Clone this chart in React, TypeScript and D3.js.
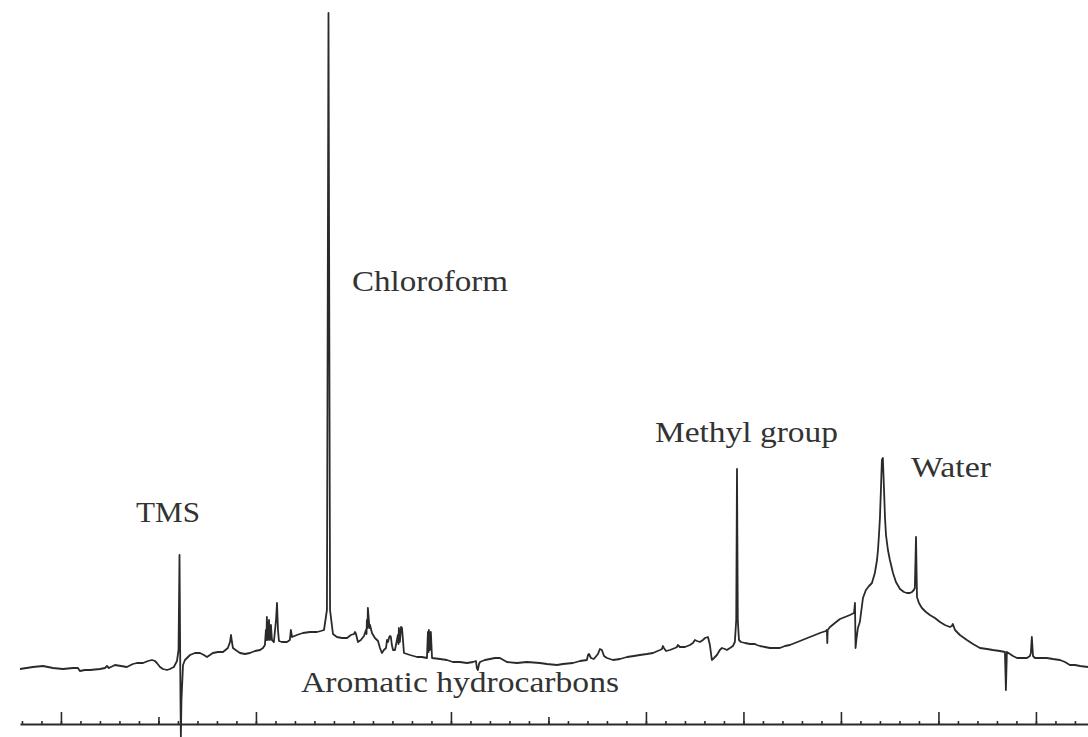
import { useEffect, useRef } from 'react';
import * as d3 from 'd3';

// Spectrum, as [shift (scale divisions), signal height]
const baselineLeft = [
  [-2.1, 55], [-1.44, 57], [-0.92, 58], [-0.41, 56], [0.1, 55], [0.62, 56], [0.87, 56],
  [0.97, 53], [1.23, 54], [1.49, 54], [2.0, 55], [2.26, 56], [2.36, 58], [2.46, 56],
  [2.77, 59], [3.08, 58], [3.38, 57], [3.69, 60], [3.9, 61], [4.21, 61], [4.46, 63],
  [4.67, 64], [4.82, 63], [4.92, 61], [5.08, 57], [5.23, 55], [5.44, 54], [5.59, 55],
  [5.79, 57], [5.95, 63],
];

const tmsRegion = [
  [6.03, 74], [6.08, 169], [6.13, 24], [6.15, -13], [6.18, 24], [6.26, 59], [6.36, 64],
  [6.62, 69], [6.87, 71], [7.13, 71], [7.33, 69], [7.49, 67], [7.64, 69], [7.79, 71],
  [8.05, 72], [8.31, 72], [8.56, 76], [8.67, 82], [8.72, 89], [8.77, 82], [8.82, 76],
  [9.03, 73], [9.18, 71], [9.44, 70], [9.69, 71], [9.95, 73],
];

const aromaticRegion = [
  [10.21, 74], [10.36, 76], [10.46, 79], [10.51, 94], [10.54, 84], [10.56, 107], [10.6, 86],
  [10.62, 84], [10.67, 104], [10.7, 86], [10.72, 84], [10.77, 99], [10.82, 84], [10.92, 82],
  [11.03, 104], [11.08, 121], [11.13, 94], [11.18, 83], [11.33, 82], [11.59, 82], [11.74, 84],
  [11.79, 94], [11.85, 87], [12.1, 89], [12.41, 91], [12.77, 92], [13.13, 92],
  [13.33, 93], [13.49, 94], [13.64, 114], [13.72, 711], [13.8, 114], [13.95, 90],
  [14.15, 87], [14.41, 86], [14.67, 86], [14.87, 89], [15.03, 90], [15.08, 92],
  [15.13, 90], [15.23, 82], [15.38, 84], [15.54, 88], [15.64, 94], [15.67, 90], [15.69, 104],
  [15.72, 96], [15.74, 116], [15.79, 104], [15.82, 96], [15.85, 99], [15.95, 91], [16.1, 86],
  [16.26, 83], [16.36, 76], [16.46, 71], [16.56, 74], [16.67, 76], [16.72, 84], [16.77, 82],
  [16.82, 86], [16.87, 88], [16.92, 87], [16.97, 79], [17.03, 74], [17.13, 74], [17.28, 89],
  [17.31, 80], [17.33, 96], [17.38, 82], [17.44, 97], [17.49, 96], [17.54, 84], [17.59, 71],
  [17.9, 69], [18.26, 67], [18.51, 67], [18.77, 66], [18.82, 92], [18.85, 72], [18.87, 94],
  [18.92, 74], [18.97, 92], [19.03, 66], [19.44, 65],
];

const midRegion = [
  [19.79, 64], [20.1, 62], [20.46, 62], [20.82, 61], [21.13, 62], [21.28, 63],
  [21.33, 56], [21.38, 54], [21.44, 60], [21.49, 62], [21.74, 64], [22.0, 65],
  [22.26, 66], [22.51, 66], [22.87, 62], [23.38, 61], [23.9, 62], [24.56, 61],
  [24.92, 60], [25.44, 59], [25.74, 60], [26.26, 61], [26.62, 63], [26.97, 64],
  [27.03, 69], [27.08, 70], [27.18, 66], [27.33, 65], [27.54, 70], [27.64, 75],
  [27.74, 74], [27.85, 68], [28.0, 66], [28.31, 64], [28.67, 65], [29.03, 67],
  [29.38, 68], [29.69, 69], [30.05, 70], [30.36, 71], [30.72, 74], [30.82, 75],
  [30.87, 78], [30.92, 76], [31.03, 73], [31.23, 74], [31.49, 76], [31.59, 77],
  [31.64, 79], [31.74, 77], [32.0, 77], [32.26, 79], [32.41, 81], [32.51, 84],
  [32.62, 83], [32.77, 82], [32.92, 84], [33.03, 86], [33.18, 87], [33.28, 79],
  [33.38, 64], [33.49, 66], [33.64, 69], [33.79, 74], [33.9, 76], [34.05, 75],
  [34.15, 74], [34.31, 76], [34.46, 78],
];

const methylRegion = [
  [34.56, 82], [34.63, 104], [34.67, 255], [34.71, 104], [34.77, 84], [34.87, 82],
  [35.08, 81], [35.33, 80], [35.59, 80], [35.69, 79], [35.85, 78], [36.1, 77],
  [36.36, 76], [36.62, 76], [36.87, 76], [37.13, 78], [37.38, 79], [37.64, 81],
  [37.9, 83], [38.15, 85], [38.41, 87], [38.67, 89], [38.92, 91], [39.23, 93],
  [39.28, 94], [39.3, 81], [39.32, 94], [39.44, 97], [39.69, 101], [39.95, 105],
  [40.21, 107], [40.46, 109], [40.67, 111], [40.72, 121], [40.75, 76], [40.79, 84],
  [40.87, 96], [40.97, 102],
];

const waterRegion = [
  [41.13, 126], [41.28, 134], [41.44, 138], [41.59, 141], [41.74, 151], [41.85, 164],
  [41.9, 174], [41.95, 189], [42.0, 206], [42.05, 234], [42.1, 264], [42.15, 266],
  [42.21, 234], [42.26, 206], [42.31, 189], [42.41, 174], [42.51, 164], [42.67, 151],
  [42.82, 142], [43.03, 135], [43.23, 132], [43.38, 131], [43.54, 131], [43.64, 132],
  [43.74, 134], [43.79, 136], [43.85, 187], [43.9, 127], [44.0, 121], [44.15, 116],
  [44.36, 112], [44.56, 109], [44.82, 106], [45.08, 102], [45.33, 99], [45.59, 97],
  [45.69, 98], [45.74, 100], [45.85, 94], [46.1, 89], [46.46, 84], [46.77, 80],
  [47.13, 76], [47.49, 75], [47.79, 74], [48.15, 73], [48.41, 72], [48.46, 34],
  [48.51, 72], [48.67, 70], [48.82, 68], [49.03, 66], [49.28, 66], [49.54, 66],
  [49.69, 68], [49.74, 71], [49.79, 87], [49.85, 68], [49.95, 66], [50.21, 66],
  [50.56, 66], [50.87, 65], [51.23, 64], [51.49, 62], [51.74, 59], [52.0, 59],
  [52.26, 58], [52.67, 57],
];

// Scale divisions on the horizontal axis
const minorTicks = d3.range(-2, 53);
const halfTicks = [5, 25];
const wholeTicks = [0, 10, 20, 30, 35, 40, 45, 50];

const labels = [
  { text: 'TMS', x: 136, y: 522, w: 64 },
  { text: 'Chloroform', x: 352, y: 291, w: 156 },
  { text: 'Methyl group', x: 655, y: 442, w: 183 },
  { text: 'Water', x: 911, y: 477, w: 80 },
  { text: 'Aromatic hydrocarbons', x: 301, y: 692, w: 318 },
];

function NmrSpectrum() {
  const svgRef = useRef();

  useEffect(() => {
    document.body.style.margin = '0';
    const width = 1088;
    const height = 737;
    const axisY = 724;

    const svg = d3.select(svgRef.current);
    svg.selectAll('*').remove();
    svg.attr('width', width).attr('height', height);

    svg.append('rect').attr('width', width).attr('height', height).attr('fill', '#ffffff');

    const x = d3.scaleLinear().domain([-2.1, 52.67]).range([20, 1088]);
    const y = d3.scaleLinear().domain([0, 711]).range([axisY, 13]);

    const points = [
      ...baselineLeft, ...tmsRegion, ...aromaticRegion,
      ...midRegion, ...methylRegion, ...waterRegion,
    ];

    const line = d3.line()
      .x(d => x(d[0]))
      .y(d => y(d[1]));

    svg.append('path')
      .datum(points)
      .attr('d', line)
      .attr('fill', 'none')
      .attr('stroke', '#2a2a2a')
      .attr('stroke-width', 1.8)
      .attr('stroke-linejoin', 'round');

    // Axis: ticks point up from the line
    const addAxis = (values, size) => {
      const g = svg.append('g')
        .attr('transform', `translate(0,${axisY})`)
        .call(d3.axisTop(x).tickValues(values).tickSize(size).tickSizeOuter(0).tickFormat(() => ''));
      g.select('.domain').attr('stroke', '#2a2a2a').attr('stroke-width', 2);
      g.selectAll('.tick line').attr('stroke', '#2a2a2a').attr('stroke-width', 1.6);
      return g;
    };
    addAxis(minorTicks, 3);
    addAxis(halfTicks, 7).select('.domain').remove();
    addAxis(wholeTicks, 12).select('.domain').remove();

    svg.selectAll('.label')
      .data(labels)
      .join('text')
      .attr('class', 'label')
      .attr('x', d => d.x)
      .attr('y', d => d.y)
      .attr('textLength', d => d.w)
      .attr('lengthAdjust', 'spacingAndGlyphs')
      .attr('font-family', '"Liberation Serif", "DejaVu Serif", serif')
      .attr('font-size', 30)
      .attr('fill', '#333333')
      .text(d => d.text);
  }, []);

  return <svg ref={svgRef} style={{ display: 'block' }}></svg>;
}

export default function App() {
  return <NmrSpectrum />;
}
